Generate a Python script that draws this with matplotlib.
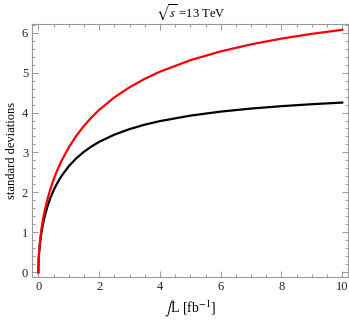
import matplotlib
matplotlib.use("Agg")
import matplotlib.pyplot as plt
from matplotlib.ticker import MultipleLocator

lumi = [0, 0.002, 0.005, 0.01, 0.02, 0.05, 0.1, 0.15, 0.2, 0.3, 0.4, 0.5, 0.6, 0.75,
        1, 1.25, 1.5, 1.75, 2, 2.5, 3, 3.5, 4, 5, 6, 7, 8, 9, 10]
sig_red = [0, 0.155, 0.245, 0.346, 0.489, 0.770, 1.083, 1.319, 1.515, 1.836, 2.097,
           2.321, 2.517, 2.774, 3.128, 3.419, 3.666, 3.879, 4.066, 4.379, 4.632,
           4.843, 5.022, 5.309, 5.530, 5.706, 5.850, 5.969, 6.070]
sig_black = [0, 0.144, 0.228, 0.322, 0.454, 0.713, 0.997, 1.208, 1.379, 1.653, 1.871,
             2.051, 2.204, 2.399, 2.656, 2.856, 3.018, 3.152, 3.265, 3.446, 3.585,
             3.696, 3.785, 3.922, 4.023, 4.099, 4.159, 4.208, 4.249]

plt.rcParams['font.family'] = ['Liberation Serif', 'DejaVu Serif']
plt.rcParams['mathtext.fontset'] = 'stix'

fig = plt.figure(figsize=(3.49, 3.23), dpi=100)
ax = fig.add_axes([0.0926, 0.1433, 0.9054, 0.7817])

ax.plot(lumi, sig_black, color='black', lw=1.6)
ax.plot(lumi, sig_red, color='#ff0000', lw=1.6)

ax.set_xlim(-0.2, 10.2)
ax.set_ylim(-0.11, 6.21)
ax.xaxis.set_major_locator(MultipleLocator(2))
ax.xaxis.set_minor_locator(MultipleLocator(0.5))
ax.yaxis.set_major_locator(MultipleLocator(1))
ax.yaxis.set_minor_locator(MultipleLocator(0.2))

gray = '#999999'
for s in ax.spines.values():
    s.set_color(gray)
    s.set_linewidth(0.8)
ax.tick_params(which='both', direction='in', top=True, right=True, color=gray,
               labelsize=9, labelcolor='#222222', width=0.7)
ax.tick_params(which='major', length=4, pad=3)
ax.tick_params(which='minor', length=2)

ax.set_title(r'$\sqrt{s}$ =13 TeV', fontsize=9, pad=5)
ax.set_ylabel('standard deviations', fontsize=9, labelpad=3)
ax.set_xlabel(r'$\int$L [fb$^{-1}$]', fontsize=10, labelpad=4)

fig.savefig('out.png', dpi=100)
